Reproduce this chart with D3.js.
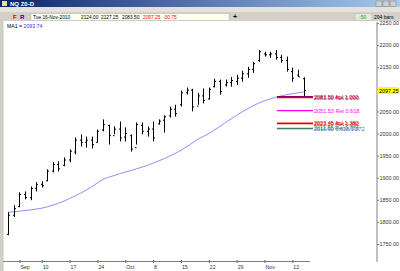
<!DOCTYPE html>
<html>
<head>
<meta charset="utf-8">
<script src="https://cdn.jsdelivr.net/npm/d3@7"></script>
<style>
body { margin: 0; background: #fff; }
text { font-family: "Liberation Sans", Arial, sans-serif; }
</style>
</head>
<body>
<div id="chart"></div>
<script>
// trading days Sep 1 - Nov 16 2010
var dates = ["09-01","09-02","09-03","09-07","09-08","09-09","09-10",
  "09-13","09-14","09-15","09-16","09-17","09-20","09-21","09-22","09-23","09-24",
  "09-27","09-28","09-29","09-30","10-01","10-04","10-05","10-06","10-07","10-08",
  "10-11","10-12","10-13","10-14","10-15","10-18","10-19","10-20","10-21","10-22",
  "10-25","10-26","10-27","10-28","10-29","11-01","11-02","11-03","11-04","11-05",
  "11-08","11-09","11-10","11-11","11-12","11-15","11-16"];
var open  = [1772,1815,1835,1862,1855,1876,1885,1893,1915,1930,1928,1940,1958,1985,1980,1985,1980,
  2008,2018,1995,2010,1992,1995,1968,2018,2005,2010,2022,2030,2040,2055,2065,2092,2098,2062,2085,2078,
  2106,2118,2110,2115,2118,2125,2135,2145,2165,2180,2178,2180,2172,2165,2140,2132,2124];
var high  = [1822,1838,1867,1869,1880,1890,1892,1919,1935,1937,1946,1964,1991,1998,1993,1993,2009,
  2032,2020,2016,2027,2014,1998,2025,2025,2016,2027,2032,2041,2061,2065,2097,2104,2101,2092,2102,2104,
  2124,2122,2122,2128,2133,2142,2151,2162,2189,2185,2185,2189,2178,2174,2149,2144,2127.25];
var low   = [1770,1811,1833,1851,1849,1869,1878,1892,1912,1914,1926,1935,1953,1971,1968,1966,1980,
  2005,1975,1998,1982,1982,1959,1975,1998,1993,1982,2020,2002,2036,2038,2061,2088,2050,2065,2068,2077,
  2104,2088,2106,2106,2110,2117,2126,2137,2162,2174,2171,2167,2160,2140,2117,2128,2083.5];
var close = [1815,1830,1862,1855,1876,1885,1882,1915,1930,1920,1940,1960,1985,1980,1985,1975,2005,
  2020,1995,2010,1990,2000,1965,2020,2005,2010,1990,2028,2038,2055,2045,2092,2098,2060,2085,2075,2100,
  2118,2095,2115,2120,2125,2135,2145,2158,2185,2178,2180,2172,2165,2145,2125,2128,2097.25];
var ma1   = [1822,1823,1824,1826,1827,1829,1831,1834,1838,1842,1847,1853,1859,1865,1872,1880,1888,
  1896,1901,1905,1909,1913,1916,1920,1924,1928,1933,1938,1943,1949,1955,1962,1970,1978,1987,1993,2000,
  2008,2016,2025,2033,2041,2049,2056,2063,2069,2074,2078,2082,2085,2088,2090,2092,2093.74];

var tickDates  = ["09-03","09-10","09-17","09-24","10-01","10-08","10-15","10-22","10-29","11-05","11-12"];
var tickLabels = ["Sep","10","17","24","Oct","8","15","22","29","Nov","12"];
var priceTicks = [1750,1800,1850,1900,1950,2000,2050,2100,2150,2200,2250];

var fibValues = [2081.0, 2083.5, 2051.53, 2022.2, 2023.45, 2010.9, 2011.85];
var fibLabels = ["2081.00 Ret 1.000","2083.50 Apl 1.000","2051.53 Ret 0.618","2022.20 Ret 1.382","2023.45 Apl 1.382","2010.90 0.618/1.272","2011.85 Ret 0.786"];
var fibColors = ["#ff0000","#800060","#ff00ff","#c00000","#ff0000","#4060c0","#3a8a3a"];

var width = 400, height = 271;
var svg = d3.select("#chart").append("svg")
  .attr("width", width).attr("height", height);

// window frame
var grad = svg.append("defs").append("linearGradient").attr("id", "tb");
grad.append("stop").attr("offset", "0%").attr("stop-color", "#0a246a");
grad.append("stop").attr("offset", "100%").attr("stop-color", "#a6caf0");
svg.append("rect").attr("x", 0).attr("y", 0).attr("width", width).attr("height", height).attr("fill", "#d4d0c8");
svg.append("rect").attr("x", 0).attr("y", 0).attr("width", width).attr("height", 7).attr("fill", "url(#tb)");
svg.append("rect").attr("x", 2).attr("y", 1).attr("width", 5).attr("height", 5).attr("fill", "#e8e0a0");
svg.append("text").attr("x", 10).attr("y", 5.8).attr("fill", "#fff")
  .style("font-size", "6px").style("font-weight", "bold").text("NQ Z0-D");
[376, 383, 390].forEach(function(bx){
  svg.append("rect").attr("x", bx).attr("y", 1).attr("width", 6).attr("height", 5.5)
    .attr("fill", "#d4d0c8").attr("stroke", "#808080").attr("stroke-width", 0.5);
});
svg.append("rect").attr("x", 0).attr("y", 7).attr("width", width).attr("height", 5).attr("fill", "#e4e2dc");

// toolbar
svg.append("text").attr("x", 13).attr("y", 18.5).attr("fill", "#c00000").style("font-size", "6px").style("font-weight", "bold").text("F");
svg.append("text").attr("x", 20).attr("y", 18.5).attr("fill", "#0000c0").style("font-size", "6px").style("font-weight", "bold").text("R");
svg.append("rect").attr("x", 31).attr("y", 13.5).attr("width", 198).attr("height", 7).attr("fill", "#fffff0").attr("stroke", "#b0b0b0").attr("stroke-width", 0.5);
var info = [["Tue 16-Nov-2010", 33, "#000"], ["2124.00", 81, "#000"], ["2127.25", 101, "#000"], ["2083.50", 122, "#000"], ["2097.25", 143, "#ff0000"], ["-30.75", 163, "#ff0000"]];
info.forEach(function(d){
  svg.append("text").attr("x", d[1]).attr("y", 19).attr("fill", d[2]).style("font-size", "4.8px").text(d[0]);
});
svg.append("text").attr("x", 233).attr("y", 19).style("font-size", "7px").style("font-weight", "bold").text("+");
svg.append("rect").attr("x", 355).attr("y", 13.5).attr("width", 17).attr("height", 7).attr("fill", "#e8e8e0").attr("stroke", "#b0b0b0").attr("stroke-width", 0.5);
svg.append("text").attr("x", 359).attr("y", 19).attr("fill", "#00a000").style("font-size", "5px").text("-50");
svg.append("text").attr("x", 374).attr("y", 19).style("font-size", "5px").text("294 bars");

// chart area
svg.append("rect").attr("x", 3).attr("y", 21).attr("width", width - 3).attr("height", height - 21).attr("fill", "#fff");
svg.append("line").attr("x1", 3).attr("x2", 3).attr("y1", 21).attr("y2", height).attr("stroke", "#c8c8c8");

var x = d3.scalePoint().domain(dates).range([8.3, 303.5]);
var y = d3.scaleLinear().domain([1750, 2250]).range([244, 23]);

svg.append("text").attr("x", 7).attr("y", 27.5).style("font-size", "5.2px").text("MA1 = ")
  .append("tspan").attr("fill", "#3030ff").text("2093.74");

// price axis
var yAxis = d3.axisRight(y).tickValues(priceTicks).tickFormat(d3.format(".2f")).tickSize(2).tickPadding(0.5);
var ya = svg.append("g").attr("transform", "translate(377,0)").call(yAxis);
ya.select(".domain").attr("d", "M0,22V262").attr("stroke", "#808080");
ya.selectAll(".tick line").attr("stroke", "#808080");
ya.selectAll("text").style("font-size", "5.4px").attr("fill", "#333");

// time axis
var xAxis = d3.axisBottom(x).tickValues(tickDates).tickFormat(function(d, i){ return tickLabels[i]; }).tickSize(3).tickPadding(1);
var xa = svg.append("g").attr("transform", "translate(0,261.5)").call(xAxis);
xa.select(".domain").attr("d", "M3,0H310").attr("stroke", "#808080");
xa.selectAll(".tick line").attr("y1", -1.5).attr("y2", 1.5).attr("stroke", "#606060");
xa.selectAll("text").style("font-size", "5.2px").attr("text-anchor", "start").attr("dx", "0.5").attr("fill", "#333");

// moving average
var line = d3.line().x(function(d, i){ return x(dates[i]); }).y(function(d){ return y(d); }).curve(d3.curveMonotoneX);
svg.append("path").datum(ma1).attr("d", line).attr("fill", "none").attr("stroke", "#7070ff").attr("stroke-width", 0.8);

// OHLC bars
var bars = svg.append("g").attr("stroke", "#000").attr("stroke-width", 1);
dates.forEach(function(d, i){
  var cx = Math.round(x(d)) + 0.5;
  bars.append("line").attr("x1", cx).attr("x2", cx).attr("y1", y(high[i])).attr("y2", y(low[i]));
  bars.append("line").attr("x1", cx - 1.5).attr("x2", cx).attr("y1", y(open[i])).attr("y2", y(open[i]));
  bars.append("line").attr("x1", cx).attr("x2", cx + 1.5).attr("y1", y(close[i])).attr("y2", y(close[i]));
});

// fib levels
fibValues.forEach(function(v, i){
  svg.append("line").attr("x1", 277).attr("x2", 313).attr("y1", y(v)).attr("y2", y(v))
    .attr("stroke", fibColors[i]).attr("stroke-width", 1.2);
  svg.append("text").attr("x", 314).attr("y", y(v) + 2).attr("fill", fibColors[i])
    .style("font-size", "5.5px").text(fibLabels[i]);
});

// last price marker
var lastY = y(close[close.length - 1]);
svg.append("rect").attr("x", 377.5).attr("y", lastY - 3.5).attr("width", 21).attr("height", 7).attr("fill", "#ffff00");
svg.append("text").attr("x", 379).attr("y", lastY + 2).style("font-size", "5.4px").text("2097.25");
</script>
</body>
</html>
